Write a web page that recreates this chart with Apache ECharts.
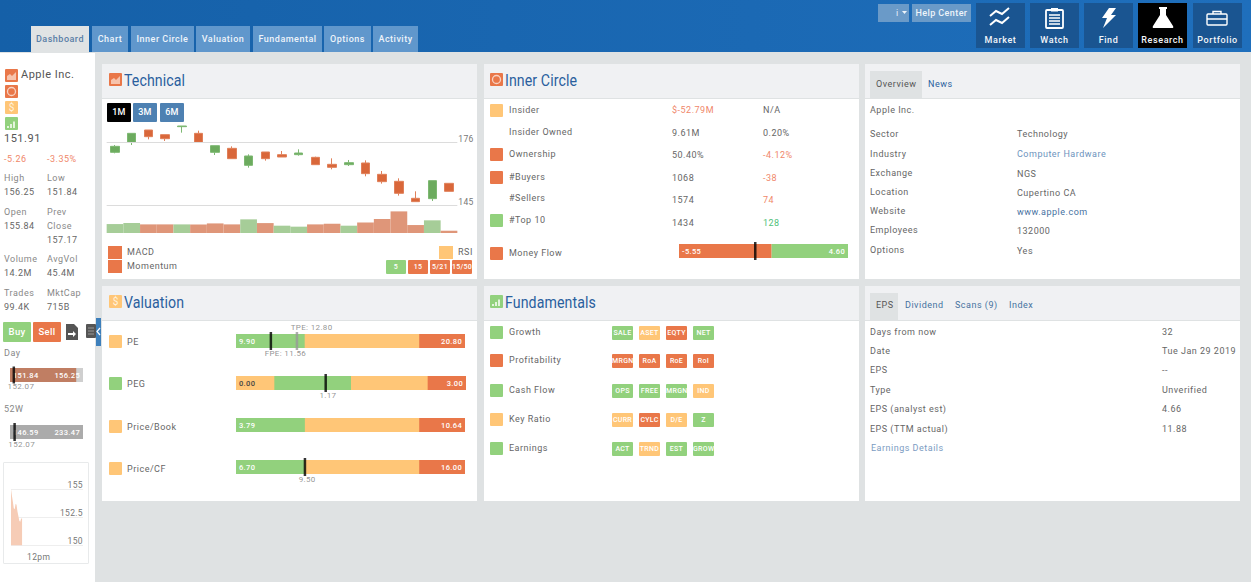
<!DOCTYPE html>
<html>
<head>
<meta charset="utf-8">
<title>Apple Inc.</title>
<script src="https://cdn.jsdelivr.net/npm/echarts@6/dist/echarts.min.js"></script>
<style>
  html, body { margin: 0; padding: 0; }
  body { width: 1251px; height: 582px; overflow: hidden; position: relative; background: #dfe2e3;
         font-family: Roboto, sans-serif; font-size: 9px; letter-spacing: .5px; color: #666; }
  #page div, #page span { position: absolute; white-space: nowrap; }
  #page svg { position: absolute; }
  #page .ec text { letter-spacing: .35px; }
</style>
</head>
<body>
<div id="page"></div>
<script>
// candles, 1 month
var candleOpen  = [171.05, 176.00, 182.10, 179.79, 183.75, 180.45, 171.05, 173.03, 164.62, 171.22, 169.90, 169.90, 168.58, 165.12, 164.95, 165.78, 160.17, 156.71, 148.30, 148.13, 155.72];
var candleClose = [174.02, 180.45, 178.80, 177.81, 184.08, 176.00, 174.35, 167.92, 169.24, 167.92, 168.74, 170.72, 164.95, 163.63, 165.94, 160.50, 156.54, 150.77, 146.65, 157.04, 151.76];
var candleLow   = [170.56, 174.68, 177.48, 176.66, 180.78, 176.00, 169.73, 167.92, 163.47, 166.93, 168.74, 169.40, 164.95, 162.64, 164.29, 159.18, 155.55, 149.62, 146.65, 146.98, 151.76];
var candleHigh  = [174.68, 180.45, 182.10, 179.79, 184.08, 181.77, 174.35, 174.02, 170.06, 171.22, 171.71, 172.54, 168.91, 168.08, 167.26, 167.10, 161.82, 158.19, 151.76, 157.04, 155.72];
var volume      = [55, 61, 53, 53, 53, 53, 59, 53, 84, 61, 45, 39, 53, 57, 45, 65, 86, 133, 49, 78, 14];
var volumeUp    = [1, 1, 0, 0, 1, 0, 0, 0, 1, 0, 1, 1, 0, 0, 1, 0, 0, 0, 0, 1, 0];
var priceTicks  = [176, 145];

// intraday, minutes from midnight
var dayMinutes = [570, 575, 580, 585, 590, 595, 600, 605, 610, 615, 620, 625, 630];
var dayPrices  = [155, 154.4, 153.9, 153.3, 153.2, 153.7, 153.6, 153.0, 152.6, 152.2, 152.1, 152.4, 152.4];

// range bars: stops go from the far end inwards
var peStops = [20.80, 18.62, 13.17];
var pegStops = [3.00, 2.50, 1.50, 0.50];
var pbStops = [10.64, 9.27, 5.85];
var pcfStops = [16.00, 14.14, 9.49];
var flowStops = [4.60, -5.55];
var rangeDayStops = [156.25, 155.84];
var range52Stops = [233.47, 233.47];

var GREEN = '#92d17d', YELLOW = '#ffc677', RED = '#e97749', BLUE = '#2a5f9e', TXT = '#666';
var page = document.getElementById('page');

function box(x, y, w, h, color, extra) {
  var d = document.createElement('div');
  d.style.cssText = 'left:' + x + 'px;top:' + y + 'px;width:' + w + 'px;height:' + h + 'px;background:' + color + ';' + (extra || '');
  page.appendChild(d);
  return d;
}
// cy is the vertical centre of the text
function txt(x, cy, s, color, extra) {
  var d = document.createElement('div');
  d.textContent = s;
  d.style.cssText = 'left:' + x + 'px;top:' + (cy - 7) + 'px;height:14px;line-height:14px;color:' + (color || TXT) + ';' + (extra || '');
  page.appendChild(d);
  return d;
}
function chip(x, y, w, h, color, s, size) {
  var d = box(x, y, w, h, color, 'border-radius:1px;text-align:center;line-height:' + h + 'px;color:#fff;font-weight:500;letter-spacing:.3px;font-size:' + (size || 7.5) + 'px;');
  d.textContent = s;
}
function svg(x, y, w, h, inner) {
  var d = document.createElementNS('http://www.w3.org/2000/svg', 'svg');
  d.setAttribute('width', w); d.setAttribute('height', h); d.setAttribute('viewBox', '0 0 ' + w + ' ' + h);
  d.style.left = x + 'px'; d.style.top = y + 'px';
  d.innerHTML = inner;
  page.appendChild(d);
}
function iconChart(x, y) {
  box(x, y, 13, 13, RED, 'border-radius:1px;');
  svg(x, y, 13, 13, '<path d="M2 11V7l3-2 2 2 4-4v8z" fill="#f7c3ac"/>');
}
function iconCircle(x, y) {
  box(x, y, 13, 13, RED, 'border-radius:1px;');
  svg(x, y, 13, 13, '<circle cx="6.5" cy="6.5" r="4" fill="none" stroke="#f8d2c2" stroke-width="1.3"/>');
}
function iconDollar(x, y) {
  var d = box(x, y, 13, 13, YELLOW, 'border-radius:1px;text-align:center;line-height:13px;color:#fff3dd;font-size:10px;letter-spacing:0;');
  d.textContent = '$';
}
function iconBars(x, y) {
  box(x, y, 13, 13, GREEN, 'border-radius:1px;');
  svg(x, y, 13, 13, '<path d="M2 9h2v2H2zM5 7h2v4H5zM8 4.5h2V11H8z" fill="#e3f4dc"/>');
}
function panelTitle(x, y, s, drawIcon) {
  drawIcon(x, y);
  txt(x + 15, y + 8, s, BLUE, 'font-size:16px;letter-spacing:.1px;transform:scaleX(.885);transform-origin:left center;');
}

// --- header ---
box(0, 0, 1251, 52, '#1660a8', 'background:linear-gradient(90deg,#1560a8,#1f6fbc);');
var tabNames = ['Dashboard', 'Chart', 'Inner Circle', 'Valuation', 'Fundamental', 'Options', 'Activity'];
var tabX = [31, 92, 131, 196, 253, 324, 373];
var tabW = [58, 36, 63, 54, 69, 47, 45];
tabNames.forEach(function (t, i) {
  var d = box(tabX[i], 26, tabW[i], i ? 26 : 27, i ? '#6097cc' : '#e0e3e4',
    'text-align:center;line-height:26px;font-weight:500;color:' + (i ? '#eef4fa' : '#5a7ea6') + ';');
  d.textContent = t;
});
box(878, 4, 31, 18, '#6a9ac8');
txt(896, 13, 'i', '#e8f0f8');
svg(902, 11, 6, 4, '<path d="M0 0h5L2.5 3z" fill="#eef4fa"/>');
var help = box(912, 4, 59, 18, '#6a9ac8', 'text-align:center;line-height:18px;color:#eef4fa;font-weight:500;letter-spacing:.4px;');
help.textContent = 'Help Center';

var navNames = ['Market', 'Watch', 'Find', 'Research', 'Portfolio'];
var navX = [976, 1030, 1084, 1138, 1193];
var navIcons = [
  '<path d="M14 13l6-5 6 3 7-6M14 22l6-5 6 3 7-6" fill="none" stroke="#fff" stroke-width="2"/>',
  '<rect x="16" y="7" width="17" height="18" fill="none" stroke="#fff" stroke-width="1.8" rx="1"/><rect x="21" y="5" width="7" height="3.5" fill="#fff"/><path d="M19 12h11M19 15h11M19 18h11M19 21h11" stroke="#fff" stroke-width="1.4"/>',
  '<path d="M25 5h7l-5 7h5L19 25l4-10h-5z" fill="#fff"/>',
  '<path d="M21 4h8v2h-1v6l7 11q1 2-1 2H16q-2 0-1-2l7-11V6h-1z" fill="#fff"/>',
  '<rect x="14" y="11" width="20" height="11" fill="none" stroke="#fff" stroke-width="1.4" rx="1"/><path d="M20 11V8.5h8V11M14 16h20" fill="none" stroke="#fff" stroke-width="1.4"/>'
];
navNames.forEach(function (n, i) {
  box(navX[i], 3, 49, 45, n === 'Research' ? '#000' : '#1a5591');
  svg(navX[i], 3, 49, 32, navIcons[i]);
  txt(navX[i], 40, n, '#f2f6fa', 'width:49px;text-align:center;font-weight:500;letter-spacing:.6px;');
});

// --- sidebar ---
box(0, 53, 95, 529, '#fff');
box(96, 318, 5, 28, '#3d7fbb');
svg(96, 327, 5, 9, '<path d="M4 1L1 4.5 4 8" fill="none" stroke="#fff" stroke-width="1.2"/>');
iconChart(5, 69); iconCircle(5, 85); iconDollar(5, 101); iconBars(5, 117);
txt(21, 75, 'Apple Inc.', '#555', 'font-size:11px;letter-spacing:.5px;');
txt(4, 139, '151.91', '#555', 'font-size:11px;');
txt(4, 159, '-5.26', '#f0876a');
txt(47, 159, '-3.35%', '#f0876a');
var sideRows = [
  [4, 178, 'High', '#888'], [47, 178, 'Low', '#888'], [4, 192, '156.25'], [47, 192, '151.84'],
  [4, 212, 'Open', '#888'], [47, 212, 'Prev', '#888'], [4, 226, '155.84'], [47, 226, 'Close', '#888'], [47, 240, '157.17'],
  [4, 259, 'Volume', '#888'], [47, 259, 'AvgVol', '#888'], [4, 273, '14.2M'], [47, 273, '45.4M'],
  [4, 293, 'Trades', '#888'], [47, 293, 'MktCap', '#888'], [4, 307, '99.4K'], [47, 307, '715B']
];
sideRows.forEach(function (r) { txt(r[0], r[1], r[2], r[3]); });
chip(3, 322, 28, 20, GREEN, 'Buy', 9.5);
chip(33, 322, 28, 20, RED, 'Sell', 9.5);
svg(65, 323, 14, 18, '<path d="M1 1h8l4 4v12H1z" fill="#555"/><path d="M3 10h5V8l3 3-3 3v-2H3z" fill="#fff"/>');
svg(85, 323, 11, 16, '<rect x="1" y="1" width="10" height="14" fill="#555" rx="1"/><path d="M3 5h6M3 8h6M3 11h6" stroke="#999" stroke-width="1"/>');
txt(4, 353, 'Day', '#888');
txt(4, 409, '52W', '#888');
box(3, 462, 84, 100, '#fff', 'border:1px solid #e8eaeb;border-radius:1px;');

// --- panels ---
var panelX = [102, 484, 865];
var panelY = [64, 286];
panelY.forEach(function (y) {
  panelX.forEach(function (x) {
    box(x, y, 375, 215, '#fff');
    box(x, y, 375, 34, '#f0f1f3', 'border-bottom:1px solid #dfe2e3;');
  });
});
panelTitle(109, 73, 'Technical', iconChart);
panelTitle(490, 73, 'Inner Circle', iconCircle);
panelTitle(109, 295, 'Valuation', iconDollar);
panelTitle(490, 295, 'Fundamentals', iconBars);

// technical
chip(107, 103, 24, 19, '#000', '1M', 9);
chip(133, 103, 24, 19, '#4e81b2', '3M', 9);
chip(160, 103, 24, 19, '#4e81b2', '6M', 9);
box(108, 246, 14, 13, RED); txt(127, 252, 'MACD');
box(108, 260, 14, 13, RED); txt(127, 266, 'Momentum');
box(439, 246, 14, 13, YELLOW); txt(458, 252, 'RSI');
chip(386, 260, 20, 14, GREEN, '5', 7);
chip(408, 260, 20, 14, RED, '15', 7);
chip(430, 260, 20, 14, RED, '5/21', 7);
chip(452, 260, 20, 14, RED, '15/50', 7);

// valuation labels
var valLabels = ['PE', 'PEG', 'Price/Book', 'Price/CF'];
var valColors = [YELLOW, GREEN, YELLOW, YELLOW];
var valY = [335, 377, 420, 462];
valLabels.forEach(function (s, i) {
  box(109, valY[i], 13, 13, valColors[i], 'border-radius:1px;');
  txt(127, valY[i] + 6.5, s);
});

// inner circle rows
var innerLabels = ['Insider', 'Insider Owned', 'Ownership', '#Buyers', '#Sellers', '#Top 10'];
var innerSquares = [YELLOW, null, RED, RED, null, GREEN];
var innerLabelY = [110, 132, 154, 177, 198, 220];
var innerValY = [110, 133, 155, 178, 200, 223];
var innerVal1 = ['$-52.79M', '9.61M', '50.40%', '1068', '1574', '1434'];
var innerVal2 = ['N/A', '0.20%', '-4.12%', '-38', '74', '128'];
var innerC1 = ['#f0876a', TXT, TXT, TXT, TXT, TXT];
var innerC2 = [TXT, TXT, '#f0876a', '#f0876a', '#f0876a', '#4fbf7a'];
innerLabels.forEach(function (s, i) {
  if (innerSquares[i]) box(490, innerLabelY[i] - 6, 13, 13, innerSquares[i], 'border-radius:1px;');
  txt(509, innerLabelY[i], s);
  txt(672, innerValY[i], innerVal1[i], innerC1[i]);
  txt(763, innerValY[i], innerVal2[i], innerC2[i]);
});
box(490, 247, 13, 13, RED, 'border-radius:1px;');
txt(509, 252.5, 'Money Flow');

// fundamentals
var fundLabels = ['Growth', 'Profitability', 'Cash Flow', 'Key Ratio', 'Earnings'];
var fundSquares = [GREEN, RED, GREEN, YELLOW, GREEN];
var fundY = [326, 354, 384, 413, 442];
var fundChips = [['SALE', 'ASET', 'EQTY', 'NET'], ['MRGN', 'RoA', 'RoE', 'RoI'], ['OPS', 'FREE', 'MRGN', 'IND'], ['CURR', 'CYLC', 'D/E', 'Z'], ['ACT', 'TRND', 'EST', 'GROW']];
var fundColors = [[GREEN, YELLOW, RED, GREEN], [RED, RED, RED, RED], [GREEN, GREEN, GREEN, YELLOW], [YELLOW, RED, YELLOW, GREEN], [GREEN, YELLOW, GREEN, GREEN]];
var fundChipX = [612, 639, 666, 693];
fundLabels.forEach(function (s, i) {
  box(490, fundY[i], 13, 13, fundSquares[i], 'border-radius:1px;');
  txt(509, fundY[i] + 5.5, s);
  fundChips[i].forEach(function (c, j) {
    chip(fundChipX[j], fundY[i], 21, 14, fundColors[i][j], c, 7);
  });
});

// overview
box(870, 71, 52, 27, '#dfe2e3');
txt(876, 84, 'Overview', '#555');
txt(928, 84, 'News', BLUE);
txt(870, 110, 'Apple Inc.');
var overLabels = ['Sector', 'Industry', 'Exchange', 'Location', 'Website', 'Employees', 'Options'];
var overLabelY = [134, 153.5, 173, 192, 211, 230, 250];
var overVals = ['Technology', 'Computer Hardware', 'NGS', 'Cupertino CA', 'www.apple.com', '132000', 'Yes'];
var overValY = [134, 154, 174, 193, 212, 231, 251];
var overColors = [TXT, '#6d93bd', TXT, TXT, '#46719f', TXT, TXT];
overLabels.forEach(function (s, i) {
  txt(870, overLabelY[i], s);
  txt(1017, overValY[i], overVals[i], overColors[i]);
});

// earnings
box(870, 293, 28, 27, '#dfe2e3');
txt(876, 305, 'EPS', '#555');
txt(905, 305, 'Dividend', '#46719f');
txt(955, 305, 'Scans (9)', '#46719f');
txt(1009, 305, 'Index', '#46719f');
var epsLabels = ['Days from now', 'Date', 'EPS', 'Type', 'EPS (analyst est)', 'EPS (TTM actual)'];
var epsVals = ['32', 'Tue Jan 29 2019', '--', 'Unverified', '4.66', '11.88'];
var epsY = [331.5, 351, 370, 389.5, 409, 428.5];
epsLabels.forEach(function (s, i) {
  txt(870, epsY[i], s);
  txt(1162, epsY[i], epsVals[i]);
});
txt(871, 448, 'Earnings Details', '#7b9cc2');

// --- charts ---
function chartDiv(x, y, w, h) {
  var d = box(x, y, w, h, 'transparent');
  d.className = 'ec';
  return echarts.init(d, null, { renderer: 'svg' });
}

var candles = candleOpen.map(function (o, i) { return [o, candleClose[i], candleLow[i], candleHigh[i]]; });
var days = candleOpen.map(function (o, i) { return i + 1; });
var tech = chartDiv(102, 115, 375, 125);
tech.setOption({
  animation: false,
  grid: [
    { left: 4.65, width: 350.7, top: 5.1, height: 86.9 },
    { left: 4.65, width: 350.7, top: 92, height: 26 }
  ],
  xAxis: [
    { type: 'category', data: days, show: false, gridIndex: 0 },
    { type: 'category', data: days, show: false, gridIndex: 1 }
  ],
  yAxis: [
    { type: 'value', min: 144, max: 187, show: false, gridIndex: 0 },
    { type: 'value', min: 0, max: 160, show: false, gridIndex: 1 }
  ],
  series: [
    {
      type: 'candlestick', data: candles, barWidth: 9,
      itemStyle: { color: '#6cab5e', color0: '#d9673a', borderColor: '#7db872', borderColor0: '#e0805a', borderWidth: 1 },
      markLine: {
        silent: true, symbol: 'none', animation: false,
        lineStyle: { color: '#dcdcdc', width: 1, type: 'solid' },
        label: { position: 'end', distance: 1, offset: [0, -3], color: '#777', fontFamily: 'Roboto', fontSize: 8.5 },
        data: priceTicks.map(function (v) { return { yAxis: v }; })
      }
    },
    {
      type: 'bar', xAxisIndex: 1, yAxisIndex: 1, barWidth: '100%',
      data: volume.map(function (v, i) {
        return { value: v, itemStyle: { color: volumeUp[i] ? '#a6cd98' : '#df9679' } };
      })
    }
  ]
});

// stacked look: longest bar first, the shorter ones painted over it
function rangeBar(x, y, w, h, opt) {
  var chart = chartDiv(x - 10, y - 16, w + 20, h + 32);
  var last = opt.stops.length - 1;
  var barLabel = { fontFamily: 'Roboto', fontSize: 7.5, fontWeight: 500, distance: 3 };
  var series = opt.stops.map(function (v, i) {
    var label = { show: false };
    if (i === 0) label = Object.assign({ show: true, position: 'insideRight', formatter: opt.right, color: opt.rightColor || '#fff' }, barLabel);
    if (i === last) label = Object.assign({ show: true, position: 'insideLeft', formatter: opt.left, color: opt.leftColor || '#fff' }, barLabel);
    return { type: 'bar', data: [v], barWidth: '100%', barGap: '-100%', itemStyle: { color: opt.colors[i] }, label: label };
  });
  (opt.marks || []).forEach(function (m) {
    series.push({
      type: 'scatter', data: [[m.value, 0]], symbol: 'rect', symbolSize: [2.5, m.size || 18], clip: false,
      itemStyle: { color: m.color || '#000' }, z: 5,
      label: {
        show: !!m.text, formatter: m.text, position: [-5, m.above ? -9 : (m.size || 18) - 1],
        align: 'left', verticalAlign: 'top', color: '#777', fontFamily: 'Roboto', fontSize: 8
      }
    });
  });
  chart.setOption({
    animation: false,
    grid: { left: 10, right: 10, top: 16, bottom: 16 },
    xAxis: { type: 'value', min: opt.min, max: opt.max, show: false },
    yAxis: { type: 'category', data: [''], show: false },
    series: series
  });
}

rangeBar(236, 334, 229, 14, {
  min: 9.90, max: 20.80, stops: peStops, colors: [RED, YELLOW, GREEN], left: '9.90', right: '20.80',
  marks: [{ value: 12.80, color: '#999', text: 'TPE: 12.80', above: true }, { value: 11.56, text: 'FPE: 11.56' }]
});
rangeBar(236, 376, 230, 14, {
  min: 0, max: 3.00, stops: pegStops, colors: [RED, YELLOW, GREEN, YELLOW], left: '0.00', leftColor: '#444', right: '3.00',
  marks: [{ value: 1.17, text: '1.17' }]
});
rangeBar(236, 418, 229, 14, {
  min: 3.79, max: 10.64, stops: pbStops, colors: [RED, YELLOW, GREEN], left: '3.79', right: '10.64'
});
rangeBar(236, 460, 229, 14, {
  min: 6.70, max: 16.00, stops: pcfStops, colors: [RED, YELLOW, GREEN], left: '6.70', right: '16.00',
  marks: [{ value: 9.50, text: '9.50' }]
});
rangeBar(679, 244, 169, 14, {
  min: -5.55, max: 4.60, stops: flowStops, colors: [GREEN, RED], left: '-5.55', right: '4.60',
  marks: [{ value: -0.97 }]
});
rangeBar(10, 368, 73, 14, {
  min: 151.84, max: 156.25, stops: rangeDayStops, colors: ['#cfcfcf', '#c07e63'], left: '151.84', right: '156.25',
  marks: [{ value: 152.07, size: 17, text: '152.07' }]
});
rangeBar(10, 425, 73, 14, {
  min: 146.59, max: 233.47, stops: range52Stops, colors: ['#ababab', '#ababab'], left: '146.59', right: '233.47',
  marks: [{ value: 152.07, size: 18, text: '152.07' }]
});

var intraday = chartDiv(3, 462, 86, 101);
intraday.setOption({
  animation: false,
  grid: { left: 8, width: 72, top: 27, height: 56.5 },
  xAxis: {
    type: 'value', min: 570, max: 960, interval: 30,
    axisLine: { show: false }, axisTick: { show: false }, splitLine: { show: false },
    axisLabel: {
      show: true, margin: 7, color: '#777', fontFamily: 'Roboto', fontSize: 8.5,
      formatter: function (v) { return v === 720 ? '12pm' : ''; }
    }
  },
  yAxis: {
    type: 'value', min: 150, max: 155, interval: 2.5, position: 'right',
    axisLine: { show: false }, axisTick: { show: false },
    splitLine: { lineStyle: { color: '#eeeeee' } },
    axisLabel: { inside: true, verticalAlign: 'bottom', margin: 0, color: '#777', fontFamily: 'Roboto', fontSize: 8.5 }
  },
  series: [{
    type: 'line', showSymbol: false, lineStyle: { width: 0 }, areaStyle: { color: '#f6ccb6', opacity: 1 },
    data: dayMinutes.map(function (m, i) { return [m, dayPrices[i]]; })
  }]
});
</script>
</body>
</html>
